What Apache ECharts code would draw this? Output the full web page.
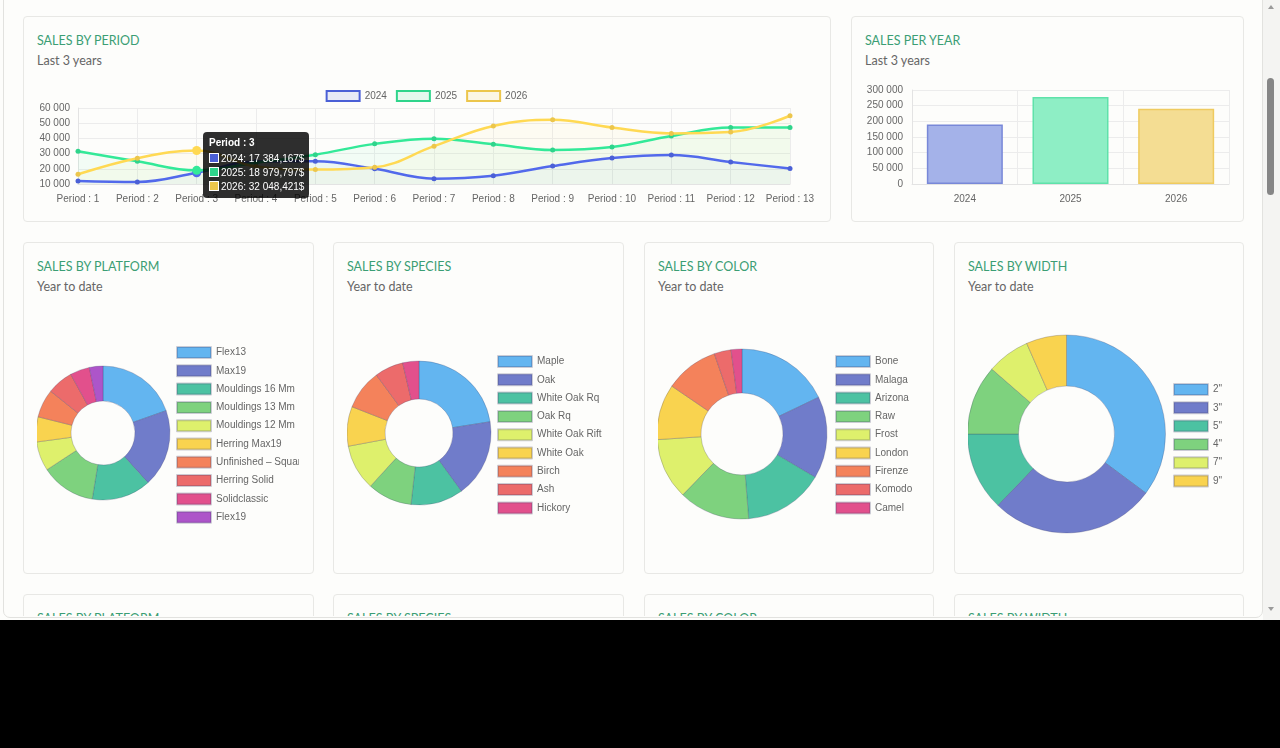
<!DOCTYPE html>
<html lang="en">
<head>
<meta charset="UTF-8">
<title>Sales dashboard</title>
<script src="https://cdn.jsdelivr.net/npm/echarts@6/dist/echarts.min.js"></script>
<style>
  html, body { margin: 0; padding: 0; background: #000; }
  .screen { position: absolute; left: 0; top: 0; width: 1280px; height: 620px; background: #fdfdfb; overflow: hidden; }
  .frame { position: absolute; left: 3px; top: -8px; width: 1258px; height: 624px; border: 1px solid #e2e2df; border-radius: 7px; }
  .clip { position: absolute; left: 4px; top: 0; width: 1257px; height: 616px; overflow: hidden; }
  .card { position: absolute; border: 1px solid #e8e8e5; border-radius: 4px; background: #fdfdfb; }
  .card .t { position: absolute; left: 13px; top: 16px; font-family: Lato, "Open Sans", sans-serif; font-size: 12.5px; color: #3b9e74; white-space: nowrap; }
  .card .s { position: absolute; left: 13px; top: 36px; font-family: Lato, "Open Sans", sans-serif; font-size: 12.5px; color: #666; white-space: nowrap; }
  .chart { position: absolute; }
  .sb { position: absolute; left: 1263px; top: 0; width: 17px; height: 620px; background: #f4f4f2; }
  .thumb { position: absolute; left: 1267px; top: 78px; width: 7px; height: 117px; background: #868686; border-radius: 4px; }
  .arr { position: absolute; left: 1268px; width: 0; height: 0; border-left: 3px solid transparent; border-right: 3px solid transparent; }
</style>
</head>
<body>
<div class="screen">
  <div class="frame"></div>
  <div class="clip">
    <div class="card" style="left:19px;top:16px;width:806px;height:204px;">
      <div class="t">SALES BY PERIOD</div><div class="s">Last 3 years</div>
    </div>
    <div class="card" style="left:847px;top:16px;width:391px;height:204px;">
      <div class="t">SALES PER YEAR</div><div class="s">Last 3 years</div>
    </div>
    <div class="card" style="left:19px;top:242px;width:289px;height:330px;">
      <div class="t">SALES BY PLATFORM</div><div class="s">Year to date</div>
    </div>
    <div class="card" style="left:329px;top:242px;width:289px;height:330px;">
      <div class="t">SALES BY SPECIES</div><div class="s">Year to date</div>
    </div>
    <div class="card" style="left:640px;top:242px;width:288px;height:330px;">
      <div class="t">SALES BY COLOR</div><div class="s">Year to date</div>
    </div>
    <div class="card" style="left:950px;top:242px;width:288px;height:330px;">
      <div class="t">SALES BY WIDTH</div><div class="s">Year to date</div>
    </div>
    <div class="card" style="left:19px;top:594px;width:289px;height:330px;">
      <div class="t">SALES BY PLATFORM</div>
    </div>
    <div class="card" style="left:329px;top:594px;width:289px;height:330px;">
      <div class="t">SALES BY SPECIES</div>
    </div>
    <div class="card" style="left:640px;top:594px;width:288px;height:330px;">
      <div class="t">SALES BY COLOR</div>
    </div>
    <div class="card" style="left:950px;top:594px;width:288px;height:330px;">
      <div class="t">SALES BY WIDTH</div>
    </div>
  </div>
  <div class="chart" id="periodChart" style="left:23px;top:80px;width:807px;height:140px;"></div>
  <div class="chart" id="yearChart" style="left:851px;top:80px;width:392px;height:140px;"></div>
  <div class="chart" id="platformChart" style="left:37px;top:300px;width:262px;height:265px;"></div>
  <div class="chart" id="speciesChart" style="left:347px;top:300px;width:262px;height:265px;"></div>
  <div class="chart" id="colorChart" style="left:658px;top:300px;width:262px;height:265px;"></div>
  <div class="chart" id="widthChart" style="left:968px;top:300px;width:262px;height:265px;"></div>
  <div class="sb"></div>
  <div class="thumb"></div>
  <div class="arr" style="top:5px;border-bottom:4px solid #9a9a9a;"></div>
  <div class="arr" style="top:607px;border-top:4px solid #9a9a9a;"></div>
</div>

<script>
// données
var periods = ['Period : 1', 'Period : 2', 'Period : 3', 'Period : 4', 'Period : 5', 'Period : 6', 'Period : 7',
               'Period : 8', 'Period : 9', 'Period : 10', 'Period : 11', 'Period : 12', 'Period : 13'];
var sales2024 = [12000, 11300, 17384.167, 24800, 24900, 20000, 13500, 15500, 21800, 27100, 29100, 24500, 20200];
var sales2025 = [31500, 24900, 18979.797, 24000, 29300, 36400, 39800, 36200, 32400, 34400, 41600, 47100, 47100];
var sales2026 = [16400, 27000, 32048.421, 21500, 19500, 21000, 34900, 48200, 52200, 47100, 43300, 44200, 54900];

var years = ['2024', '2025', '2026'];
var yearTotals = [190000, 278000, 240000];

var platformNames = ['Flex13', 'Max19', 'Mouldings 16 Mm', 'Mouldings 13 Mm', 'Mouldings 12 Mm',
                     'Herring Max19', 'Unfinished \u2013 Square', 'Herring Solid', 'Solidclassic', 'Flex19'];
var platformValues = [70500, 67300, 51500, 47500, 25500, 21700, 24600, 22600, 17000, 11800];

var speciesNames = ['Maple', 'Oak', 'White Oak Rq', 'Oak Rq', 'White Oak Rift', 'White Oak', 'Birch', 'Ash', 'Hickory'];
var speciesValues = [81000, 63000, 42400, 36000, 37000, 32000, 32300, 23200, 13100];

var colorNames = ['Bone', 'Malaga', 'Arizona', 'Raw', 'Frost', 'London', 'Firenze', 'Komodo', 'Camel'];
var colorValues = [64400, 56200, 54900, 48800, 41900, 38100, 36700, 11600, 7400];

var widthNames = ['2"', '3"', '5"', '4"', '7"', '9"'];
var widthValues = [126700, 97200, 46100, 41000, 25300, 23700];

var FONT = '"Liberation Sans", Arial, sans-serif';
var lineColors = ['#4b60d6', '#2fd48b', '#ecc64c'];
var areaColors = ['rgba(75,96,214,0.06)', 'rgba(47,212,139,0.08)', 'rgba(236,198,76,0.07)'];
var legendFills = ['rgba(75,96,214,0.12)', 'rgba(47,212,139,0.12)', 'rgba(236,198,76,0.12)'];
var barFills = ['#a4b2e9', '#8eeec5', '#f4dd93'];
var barBorders = ['#7888d8', '#5fe2aa', '#efcb5f'];
var palette = ['#63b5f0', '#707cca', '#4cc2a2', '#7ed27e', '#def06c', '#f9d34f', '#f4825b', '#ec6b6b', '#e2508c', '#ad55c9'];

function spaced(n) {
    return String(n).replace(/\B(?=(\d{3})+(?!\d))/g, ' ');
}
function money(v) {
    var p = v.toFixed(3).split('.');
    return spaced(p[0]) + ',' + p[1] + '$';
}

// courbes par période
var lineChart = echarts.init(document.getElementById('periodChart'));
var lineSeries = [sales2024, sales2025, sales2026].map(function (d, i) {
    return {
        name: years[i],
        type: 'line',
        data: d,
        smooth: 0.4,
        symbol: 'circle',
        symbolSize: 5,
        lineStyle: { width: 2.5, color: lineColors[i] },
        itemStyle: { color: lineColors[i] },
        areaStyle: { color: areaColors[i], origin: 'start' },
        emphasis: { scale: 1.8, focus: 'none' }
    };
});
lineChart.setOption({
    animation: false,
    textStyle: { fontFamily: FONT },
    legend: {
        top: 10,
        left: 'center',
        padding: 0,
        icon: 'rect',
        itemWidth: 33,
        itemHeight: 10,
        itemGap: 9,
        textStyle: { color: '#666', fontSize: 10 },
        data: years.map(function (y, i) {
            return { name: y, itemStyle: { color: legendFills[i], borderColor: lineColors[i], borderWidth: 2 } };
        })
    },
    grid: { left: 55, right: 40, top: 28, bottom: 36 },
    tooltip: {
        trigger: 'axis',
        triggerOn: 'none',
        alwaysShowContent: true,
        axisPointer: { type: 'none' },
        backgroundColor: 'rgba(0,0,0,0.82)',
        borderWidth: 0,
        padding: [5, 5, 4, 6],
        transitionDuration: 0,
        extraCssText: 'border-radius:4px;box-shadow:none;',
        textStyle: { color: '#fff', fontSize: 10, fontFamily: FONT },
        position: function () { return [180, 52]; },
        formatter: function (params) {
            var html = '<div style="font-weight:bold;line-height:12px;margin-bottom:3px">' + params[0].axisValue + '</div>';
            params.forEach(function (p) {
                html += '<div style="line-height:14px"><span style="display:inline-block;width:8px;height:8px;background:' +
                    lineColors[p.seriesIndex] + ';border:1px solid #fff;margin-right:2px;vertical-align:-1px"></span>' +
                    p.seriesName + ': ' + money(p.value) + '</div>';
            });
            return html;
        }
    },
    xAxis: {
        type: 'category',
        boundaryGap: false,
        data: periods,
        axisLine: { lineStyle: { color: '#e3e3e3' } },
        axisTick: { show: false },
        axisLabel: { color: '#666', fontSize: 10, margin: 10, interval: 0 },
        splitLine: { show: true, interval: 0, lineStyle: { color: '#ececec' } }
    },
    yAxis: {
        type: 'value',
        min: 10000,
        max: 60000,
        interval: 10000,
        axisLine: { show: true, lineStyle: { color: '#e3e3e3' } },
        axisLabel: { color: '#666', fontSize: 10, margin: 8, formatter: spaced },
        splitLine: { lineStyle: { color: '#ececec' } }
    },
    series: lineSeries
});
lineChart.dispatchAction({ type: 'showTip', seriesIndex: 0, dataIndex: 2 });
lineChart.dispatchAction({ type: 'highlight', seriesIndex: [0, 1, 2], dataIndex: 2 });

// barres par année
var barChart = echarts.init(document.getElementById('yearChart'));
barChart.setOption({
    animation: false,
    textStyle: { fontFamily: FONT },
    grid: { left: 61, right: 14, top: 10, bottom: 36 },
    xAxis: {
        type: 'category',
        data: years,
        axisLine: { lineStyle: { color: '#e3e3e3' } },
        axisTick: { show: false },
        axisLabel: { color: '#666', fontSize: 10, margin: 10 },
        splitLine: { show: true, lineStyle: { color: '#ececec' } }
    },
    yAxis: {
        type: 'value',
        min: 0,
        max: 300000,
        interval: 50000,
        axisLine: { show: true, lineStyle: { color: '#e3e3e3' } },
        axisLabel: { color: '#666', fontSize: 10, margin: 9, formatter: spaced },
        splitLine: { lineStyle: { color: '#ececec' } }
    },
    series: [{
        type: 'bar',
        barWidth: 76,
        data: yearTotals.map(function (v, i) {
            return { value: v, itemStyle: { color: barFills[i], borderColor: barBorders[i], borderWidth: 1.5 } };
        })
    }]
});

// anneaux
function donut(id, names, values, center, radius, legendLeft, legendTop) {
    var c = echarts.init(document.getElementById(id));
    c.setOption({
        animation: false,
        color: palette,
        textStyle: { fontFamily: FONT },
        legend: {
            orient: 'vertical',
            left: legendLeft,
            top: legendTop,
            padding: 0,
            icon: 'rect',
            itemWidth: 34,
            itemHeight: 11,
            itemGap: 5.3,
            textStyle: { color: '#666', fontSize: 10 },
            data: names
        },
        series: [{
            type: 'pie',
            center: center,
            radius: radius,
            startAngle: 90,
            label: { show: false },
            labelLine: { show: false },
            emphasis: { disabled: true },
            itemStyle: { borderColor: 'rgba(60,60,100,0.25)', borderWidth: 1 },
            data: names.map(function (n, i) { return { name: n, value: values[i] }; })
        }]
    });
}
donut('platformChart', platformNames, platformValues, [66, 133], [32, 67], 139, 46);
donut('speciesChart', speciesNames, speciesValues, [72, 133], [34, 72], 150, 55);
donut('colorChart', colorNames, colorValues, [84, 134], [41, 85], 177, 55);
donut('widthChart', widthNames, widthValues, [98.5, 134], [48, 99], 205, 83);
</script>
</body>
</html>
